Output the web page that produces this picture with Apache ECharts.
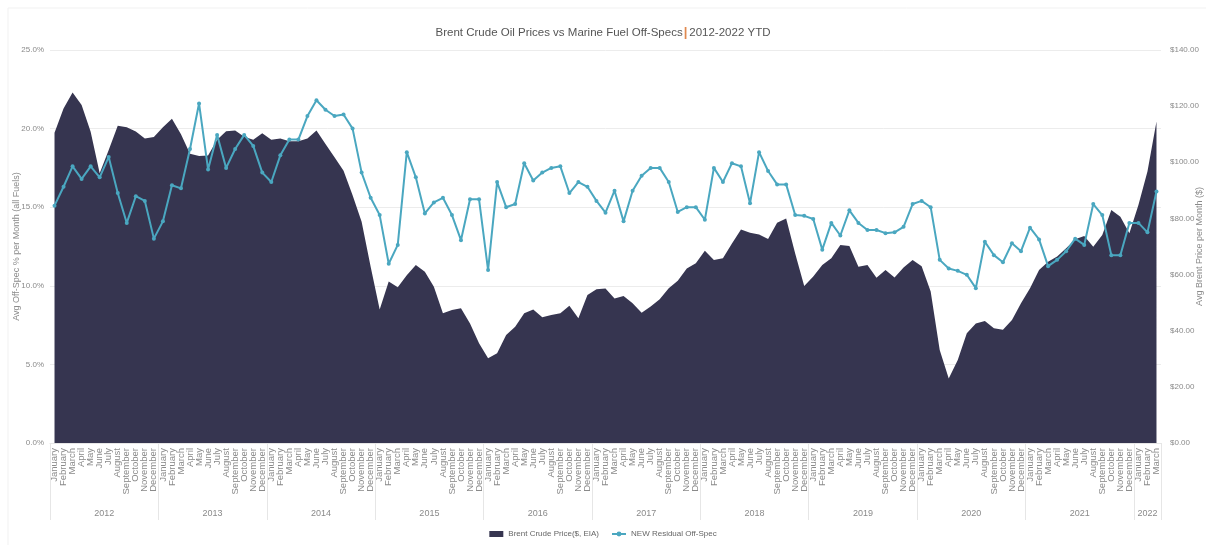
<!DOCTYPE html>
<html>
<head>
    <meta charset="utf-8">
    <title>Brent vs Off-Specs</title>
    <script src="https://cdn.jsdelivr.net/npm/echarts@6/dist/echarts.min.js"></script>
</head>
<body style="margin:0;background:#fff;">
    <div id="main" style="width: 1206px;height:545px;"></div>
    <script type="text/javascript">
        // month names, years and how many months each year has in the chart
        var monthNames = ['January', 'February', 'March', 'April', 'May', 'June', 'July', 'August', 'September', 'October', 'November', 'December'];
        var years = ['2012', '2013', '2014', '2015', '2016', '2017', '2018', '2019', '2020', '2021', '2022'];
        var monthsInYear = [12, 12, 12, 12, 12, 12, 12, 12, 12, 12, 3];

        // Brent crude price ($, EIA), monthly average
        var brent2012 = [110.5, 119.2, 124.9, 120.4, 110.9, 96.1, 104.4, 113.0, 112.5, 111.0, 108.5, 109.0];
        var brent2013 = [112.5, 115.5, 110.0, 103.0, 102.2, 102.4, 108.0, 111.1, 111.3, 109.1, 108.0, 110.3];
        var brent2014 = [108.0, 108.5, 107.5, 107.5, 108.5, 111.3, 106.5, 101.8, 97.0, 88.3, 78.8, 62.8];
        var brent2015 = [47.6, 57.5, 55.5, 59.8, 63.4, 61.0, 55.7, 46.2, 47.4, 48.0, 42.6, 35.5];
        var brent2016 = [30.2, 32.0, 38.5, 41.4, 46.2, 47.6, 44.8, 45.6, 46.2, 48.9, 44.4, 52.7];
        var brent2017 = [54.8, 55.0, 51.5, 52.4, 49.8, 46.4, 48.6, 51.2, 55.1, 57.8, 62.2, 64.0];
        var brent2018 = [68.5, 65.2, 65.8, 71.1, 76.1, 74.9, 74.3, 72.7, 78.5, 80.0, 67.5, 55.9];
        var brent2019 = [59.3, 63.4, 65.8, 70.5, 70.2, 62.8, 63.4, 58.9, 61.6, 59.0, 62.5, 65.2];
        var brent2020 = [63.0, 54.0, 33.1, 23.0, 29.6, 39.1, 42.6, 43.5, 40.9, 40.3, 43.8, 49.8];
        var brent2021 = [55.1, 61.6, 64.6, 66.4, 69.4, 72.6, 73.7, 69.9, 74.1, 83.0, 80.6, 74.7];
        var brent2022 = [84.8, 96.7, 114.5];

        // NEW residual off-spec, % of samples per month
        var offspec2012 = [15.1, 16.3, 17.6, 16.8, 17.6, 16.9, 18.2, 15.9, 14.0, 15.7, 15.4, 13.0];
        var offspec2013 = [14.1, 16.4, 16.2, 18.7, 21.6, 17.4, 19.6, 17.5, 18.7, 19.6, 18.9, 17.2];
        var offspec2014 = [16.6, 18.3, 19.3, 19.3, 20.8, 21.8, 21.2, 20.8, 20.9, 20.0, 17.2, 15.6];
        var offspec2015 = [14.5, 11.4, 12.6, 18.5, 16.9, 14.6, 15.3, 15.6, 14.5, 12.9, 15.5, 15.5];
        var offspec2016 = [11.0, 16.6, 15.0, 15.2, 17.8, 16.7, 17.2, 17.5, 17.6, 15.9, 16.6, 16.3];
        var offspec2017 = [15.4, 14.65, 16.05, 14.1, 16.05, 17.0, 17.5, 17.5, 16.6, 14.7, 15.0, 15.0];
        var offspec2018 = [14.2, 17.5, 16.6, 17.8, 17.6, 15.25, 18.5, 17.3, 16.45, 16.45, 14.5, 14.45];
        var offspec2019 = [14.25, 12.3, 14.0, 13.2, 14.8, 14.0, 13.55, 13.55, 13.35, 13.4, 13.75, 15.2];
        var offspec2020 = [15.4, 15.0, 11.65, 11.1, 10.95, 10.7, 9.85, 12.8, 11.95, 11.5, 12.7, 12.2];
        var offspec2021 = [13.7, 12.95, 11.25, 11.65, 12.2, 13.0, 12.6, 15.2, 14.5, 11.95, 11.95, 14.0];
        var offspec2022 = [14.0, 13.4, 16.0];

        var brent = [].concat(brent2012, brent2013, brent2014, brent2015, brent2016, brent2017,
            brent2018, brent2019, brent2020, brent2021, brent2022);
        var offspec = [].concat(offspec2012, offspec2013, offspec2014, offspec2015, offspec2016, offspec2017,
            offspec2018, offspec2019, offspec2020, offspec2021, offspec2022);

        // category keys "January 2012" ... and which index holds each year label
        var categories = [];
        var yearLabelAt = {};
        for (var y = 0; y < years.length; y++) {
            var start = categories.length;
            for (var m = 0; m < monthsInYear[y]; m++) {
                categories.push(monthNames[m] + ' ' + years[y]);
            }
            yearLabelAt[start + Math.floor(monthsInYear[y] / 2)] = monthsInYear[y] % 2 === 0 ? 'even' : 'odd';
        }

        var font = "'Liberation Sans Narrow', 'Liberation Sans', sans-serif";
        var chart = echarts.init(document.getElementById('main'));

        var option = {
            backgroundColor: '#ffffff',
            animation: false,
            title: {
                text: 'Brent Crude Oil Prices vs Marine Fuel Off-Specs{bar||}2012-2022 YTD',
                left: 'center',
                top: 21,
                textStyle: {
                    fontFamily: font,
                    fontSize: 11.5,
                    fontWeight: 'normal',
                    color: '#555555',
                    rich: {
                        bar: { color: '#e0894f', fontSize: 13, fontWeight: 'bold', fontFamily: font, padding: [0, 2, 0, 1] }
                    }
                }
            },
            graphic: [
                { type: 'line', shape: { x1: 8, y1: 8, x2: 1206, y2: 8 }, style: { stroke: '#f1f1f1', lineWidth: 1 } },
                { type: 'line', shape: { x1: 8, y1: 8, x2: 8, y2: 545 }, style: { stroke: '#f1f1f1', lineWidth: 1 } }
            ],
            legend: {
                bottom: 2,
                left: 'center',
                itemWidth: 14,
                itemHeight: 6,
                itemGap: 12,
                textStyle: { fontFamily: font, fontSize: 8, color: '#666666' },
                data: [
                    { name: 'Brent Crude Price($, EIA)', icon: 'rect' },
                    { name: 'NEW Residual Off-Spec' }
                ]
            },
            grid: {
                left: 50,
                right: 45,
                top: 50,
                bottom: 102,
                containLabel: false,
                outerBoundsMode: 'none'
            },
            xAxis: [
                {
                    type: 'category',
                    data: categories,
                    boundaryGap: true,
                    axisLine: { show: true, lineStyle: { color: '#e6e6e6' } },
                    axisTick: { show: false },
                    axisLabel: {
                        interval: 0,
                        rotate: 90,
                        margin: 5,
                        fontFamily: font,
                        fontSize: 9.5,
                        color: '#8a8a8a',
                        formatter: function (value) {
                            return value.split(' ')[0];
                        }
                    }
                },
                {
                    type: 'category',
                    data: categories,
                    position: 'bottom',
                    boundaryGap: true,
                    axisLine: { show: false },
                    axisTick: {
                        show: true,
                        length: 77,
                        interval: function (index) {
                            return index % 12 === 0;
                        },
                        lineStyle: { color: '#e6e6e6' }
                    },
                    axisLabel: {
                        margin: 66,
                        fontFamily: font,
                        fontSize: 9,
                        color: '#8a8a8a',
                        interval: function (index) {
                            return yearLabelAt[index] !== undefined;
                        },
                        formatter: function (value, index) {
                            var year = value.split(' ')[1];
                            return yearLabelAt[index] === 'even' ? '{a|' + year + '}' : '{b|' + year + '}';
                        },
                        rich: {
                            a: { padding: [0, 9, 0, 0], fontFamily: font, fontSize: 9, color: '#8a8a8a' },
                            b: { fontFamily: font, fontSize: 9, color: '#8a8a8a' }
                        }
                    }
                }
            ],
            yAxis: [
                {
                    type: 'value',
                    min: 0,
                    max: 25,
                    interval: 5,
                    name: 'Avg Off-Spec % per Month (all Fuels)',
                    nameLocation: 'middle',
                    nameGap: 29,
                    nameMoveOverlap: false,
                    nameTextStyle: { fontFamily: font, fontSize: 9, color: '#8a8a8a' },
                    axisLine: { show: false },
                    axisTick: { show: false },
                    axisLabel: {
                        margin: 6,
                        fontFamily: font,
                        fontSize: 8,
                        color: '#8a8a8a',
                        formatter: function (v) { return v.toFixed(1) + '%'; }
                    },
                    splitLine: { show: true, lineStyle: { color: '#ececec' } }
                },
                {
                    type: 'value',
                    min: 0,
                    max: 140,
                    interval: 20,
                    position: 'right',
                    name: 'Avg Brent Price per Month ($)',
                    nameLocation: 'middle',
                    nameGap: 34,
                    nameRotate: 90,
                    nameMoveOverlap: false,
                    nameTextStyle: { fontFamily: font, fontSize: 9, color: '#8a8a8a' },
                    axisLine: { show: false },
                    axisTick: { show: false },
                    axisLabel: {
                        margin: 9,
                        fontFamily: font,
                        fontSize: 8,
                        color: '#8a8a8a',
                        formatter: function (v) { return '$' + v.toFixed(2); }
                    },
                    splitLine: { show: false }
                }
            ],
            series: [
                {
                    name: 'Brent Crude Price($, EIA)',
                    type: 'line',
                    xAxisIndex: 0,
                    yAxisIndex: 1,
                    data: brent,
                    symbol: 'none',
                    lineStyle: { width: 0, color: '#363550' },
                    itemStyle: { color: '#363550' },
                    areaStyle: { color: '#363550', opacity: 1 }
                },
                {
                    name: 'NEW Residual Off-Spec',
                    type: 'line',
                    xAxisIndex: 0,
                    yAxisIndex: 0,
                    data: offspec,
                    symbol: 'circle',
                    symbolSize: 4,
                    lineStyle: { width: 2, color: '#4aa7c0' },
                    itemStyle: { color: '#4aa7c0' }
                }
            ]
        };

        chart.setOption(option);
    </script>
</body>
</html>
